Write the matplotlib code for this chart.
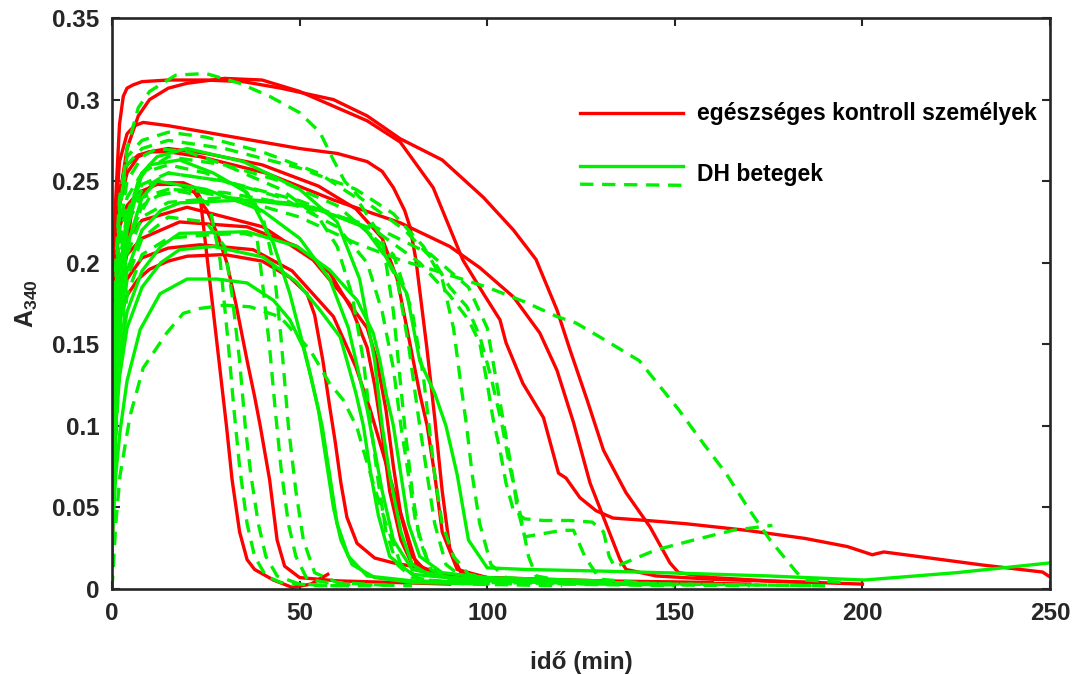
import matplotlib
matplotlib.use("Agg")
import matplotlib.pyplot as plt
from matplotlib.lines import Line2D

plt.rcParams['font.family'] = ['Liberation Sans', 'DejaVu Sans']
plt.rcParams['font.weight'] = 'bold'
plt.rcParams['mathtext.fontset'] = 'custom'
plt.rcParams['mathtext.rm'] = 'Liberation Sans:bold'
plt.rcParams['mathtext.bf'] = 'Liberation Sans:bold'
plt.rcParams['mathtext.it'] = 'Liberation Sans:bold'

# ---------------- data: healthy controls (red, solid) ----------------
red_x = [
    [0,0.7,1.3,2.1,4,5.6,8.2,11,15,19,22,23.5,25,27,29,30.5,32,34,36,38,43,48,53,57.5],
    [0,0.5,1,2,4,7,12,18,22,25.3,28,30.6,33,36,38,39.5,42,44,46,50,60,75,90],
    [0,0.5,1,2,4,7,10,15,20,30,40,47.4,52,54,56.2,58,59.5,61,62.6,65.3,70,75,81,90,110],
    [0,0.5,1,2,4,8,15,23.5,37.6,48,59,65,68.8,72,75,78.6,81,85,95,110,130],
    [0,0.5,1,2,4,8,18,36,49.3,58,64,68,70,72,74,77,80,90,105,130],
    [0,0.5,1,2,4,8,20,40.2,53.6,62.6,68,70.6,73,75,77,80,84,95,120,150],
    [0,0.5,1,2,4,7,10,15,25,40,55,65,72,76,79,82,84,86,88,92,100,130,160],
    [0,0.5,1,2,4,6,8.3,15,25,35,50,60,68,72,75,78,79.4,81,83.9,86,88,90,93,100,120,170],
    [0,0.5,1,2,3,4,5.6,8,15,25,35,45,59,68,76.8,88,99,107,113,118.6,122,126.6,131,137,143.4,148.7,151,160,175,200],
    [0,0.5,1,2,4,7,10,15,23.5,41,59,76.8,90,98,107,114,118.6,123,127.4,132,135.4,137,145,160,185],
    [0,0.5,1,2,4,7,10,15,20,30,40,50,60,68,76.8,85.6,93.5,99,103.4,105,109.5,115,119,121,124.7,129,133.5,142.6,153,169,184.7,196,202.6,205.7,216,232,248,250],
]
red_y = [
    [0.02,0.08,0.128,0.169,0.21,0.238,0.242,0.248,0.249,0.249,0.246,0.24,0.21,0.17,0.13,0.1,0.067,0.035,0.018,0.012,0.0055,0.001,0.003,0.009],
    [0.16,0.19,0.205,0.222,0.235,0.243,0.248,0.248,0.243,0.232,0.218,0.2,0.175,0.14,0.118,0.1,0.067,0.03,0.014,0.007,0.005,0.004,0.003],
    [0.12,0.14,0.152,0.165,0.18,0.19,0.196,0.201,0.204,0.205,0.201,0.191,0.181,0.168,0.14,0.112,0.09,0.065,0.044,0.028,0.019,0.016,0.0135,0.008,0.005],
    [0.13,0.15,0.16,0.175,0.19,0.203,0.209,0.211,0.208,0.195,0.167,0.136,0.11,0.085,0.061,0.034,0.016,0.01,0.007,0.005,0.004],
    [0.15,0.165,0.175,0.19,0.205,0.215,0.225,0.222,0.21,0.194,0.171,0.148,0.125,0.095,0.06,0.03,0.015,0.008,0.006,0.004],
    [0.16,0.175,0.185,0.2,0.215,0.226,0.234,0.222,0.2017,0.177,0.16,0.14,0.11,0.075,0.045,0.02,0.01,0.007,0.005,0.004],
    [0.17,0.195,0.21,0.235,0.255,0.265,0.268,0.27,0.267,0.26,0.247,0.233,0.215,0.19,0.155,0.12,0.1,0.07,0.035,0.012,0.007,0.005,0.004],
    [0.16,0.2,0.23,0.262,0.279,0.284,0.286,0.284,0.28,0.276,0.27,0.267,0.262,0.256,0.246,0.232,0.222,0.2017,0.148,0.105,0.06,0.025,0.01,0.007,0.005,0.003],
    [0.15,0.2,0.24,0.285,0.302,0.307,0.309,0.311,0.312,0.312,0.311,0.307,0.30,0.29,0.276,0.263,0.240,0.22,0.202,0.171,0.147,0.116,0.085,0.059,0.038,0.016,0.01,0.007,0.005,0.003],
    [0.17,0.2,0.22,0.245,0.26,0.266,0.268,0.268,0.265,0.255,0.2385,0.2245,0.21,0.197,0.179,0.157,0.134,0.102,0.065,0.038,0.018,0.012,0.008,0.006,0.004],
    [0.13,0.17,0.2,0.24,0.27,0.29,0.30,0.307,0.31,0.313,0.312,0.305,0.295,0.287,0.274,0.246,0.2017,0.181,0.165,0.151,0.126,0.105,0.071,0.068,0.056,0.048,0.0435,0.042,0.040,0.036,0.031,0.026,0.021,0.0227,0.0196,0.0147,0.0104,0.0074],
]

# ---------------- data: DH patients, solid green ----------------
gs_x = [
    [0,1,2.1,4,7.5,12.8,20,28,36,43,47.4,51,53,55,57,59,61,64,70,80,100],
    [0,1,2,4,8,13,18,27,40.2,49.3,55.4,60.8,62.6,65,67,69,71,74,80,95,120],
    [0,1,2,4,8,13,18,36,49.3,58,65.3,69.6,71.4,73,75,77,79,82,88,100,130],
    [0,1,2,4,8,13,18,36,53.6,67,73,78.6,82,86,89,92,95,100,110,130,150,175,200.5,225,250],
    [0,1,2,4,7,10,18,27,36,43,47.4,52,54,56,58,60,63,68,80,100],
    [0,1,2,4,8,12,25,40,50,58,63,66,68,70,72,75,80,90,110],
    [0,1,2,4,8,12,20,35,50,60,66,70,72,74,77,80,85,95,120],
]
gs_y = [
    [0.03,0.07,0.096,0.1275,0.159,0.181,0.19,0.19,0.1876,0.177,0.165,0.148,0.13,0.11,0.08,0.05,0.03,0.015,0.007,0.004,0.003],
    [0.05,0.1,0.13,0.16,0.185,0.2,0.208,0.21,0.2035,0.188,0.171,0.1545,0.14,0.12,0.1,0.07,0.045,0.02,0.009,0.006,0.004],
    [0.06,0.11,0.14,0.17,0.195,0.21,0.218,0.219,0.21,0.1956,0.177,0.157,0.14,0.12,0.1,0.07,0.04,0.02,0.01,0.007,0.005],
    [0.07,0.13,0.16,0.195,0.22,0.232,0.2367,0.2385,0.234,0.222,0.2035,0.181,0.14,0.12,0.1,0.07,0.03,0.013,0.012,0.011,0.0098,0.008,0.0055,0.01,0.016],
    [0.08,0.15,0.19,0.225,0.25,0.26,0.263,0.255,0.243,0.212,0.181,0.14,0.12,0.1,0.07,0.04,0.02,0.008,0.005,0.004],
    [0.06,0.13,0.17,0.21,0.24,0.25,0.245,0.232,0.215,0.19,0.16,0.13,0.11,0.085,0.06,0.03,0.012,0.007,0.005],
    [0.05,0.12,0.17,0.22,0.255,0.265,0.27,0.262,0.245,0.225,0.19,0.14,0.1,0.07,0.035,0.015,0.008,0.006,0.004],
]

# ---------------- data: DH patients, dashed green ----------------
gd_x = [
    [0,0.5,1,2,4,8,15,22,26,28.8,31,32.5,34,36,38,41,45,55,70],
    [0,0.5,1,2,4,8,15,25,30,32,34,35.5,37,39,41,44,50,60],
    [0,0.5,1,2,4,8,15,25,35,38.6,40,42,43.5,45,47,49,52,60,80],
    [0,0.5,1,2,4,8,15,25,35,40,43,45,47,49,51,54,60,75],
    [0,1,2.1,4.8,8.3,14.6,19,23.5,30,36.8,44.8,52.8,58,61.6,65.3,67,69.6,73,77,82,95,120],
    [0,0.5,1,2,4,8,12,20,30,45,55,60,64,67,69,71,73,76,80,90,110],
    [0,0.5,1,2,4,8,15,30,45,60,68,72,75,77,79,81,84,88,95,120,150],
    [0,0.5,1,2,4,8,15,25,40,55,65,72,75,78,80,82,85,90,100,130],
    [0,0.5,1,2,4,8,15,30,45,60,70,76,79,82,84,86,89,93,100,130,170],
    [0,0.5,1,2,4,8,15,30,50,65,75,80,83,84.5,86,88,91,95,105,140],
    [0,0.5,1,2,4,8,15,30,50,65,75,83,88,91,93,94.5,96,98,101,105,115,150,190],
    [0,0.5,1,2,4,8,15,30,50,70,82,90,95,98,100,101.5,103.4,105,107,110,115,122,128,131,132.5,134,145,155,165.5,176],
    [0,0.5,1,2,4,7,10,17,25,34,42,50,55.4,59,62,66,72,78,85.6,90,94.6,98,101,104,106,108.7,111,113,120,150,190],
    [0,0.5,1,2,5,10,20,35,50,65,76.8,85.6,100,110,118.6,123.7,130,140.5,144.7,151,157.5,163.6,170,175.4,182.6,184.7,195],
    [0,0.5,1,2,4,8,15,30,50,70,85,95,100,103,106,108,110,115,120,123,126,130,140],
]
gd_y = [
    [0.05,0.1,0.14,0.19,0.225,0.24,0.245,0.242,0.235,0.2017,0.15,0.11,0.075,0.04,0.02,0.008,0.004,0.002,0.002],
    [0.02,0.06,0.1,0.15,0.19,0.215,0.228,0.225,0.21,0.18,0.14,0.1,0.07,0.04,0.02,0.008,0.003,0.002],
    [0.0,0.05,0.09,0.14,0.18,0.205,0.215,0.217,0.218,0.216,0.19,0.148,0.11,0.075,0.04,0.02,0.006,0.003,0.002],
    [0.05,0.12,0.16,0.21,0.24,0.255,0.26,0.255,0.245,0.23,0.2,0.155,0.1,0.06,0.03,0.01,0.004,0.002],
    [0.0,0.04,0.069,0.106,0.1355,0.157,0.169,0.172,0.174,0.173,0.1668,0.1465,0.126,0.116,0.099,0.085,0.065,0.04,0.015,0.006,0.003,0.002],
    [0.08,0.14,0.18,0.22,0.25,0.265,0.27,0.268,0.26,0.245,0.228,0.21,0.18,0.14,0.1,0.065,0.035,0.015,0.007,0.004,0.003],
    [0.06,0.12,0.16,0.2,0.23,0.248,0.255,0.25,0.24,0.222,0.2,0.17,0.135,0.1,0.07,0.04,0.018,0.008,0.005,0.003,0.002],
    [0.1,0.16,0.2,0.24,0.265,0.275,0.28,0.277,0.268,0.255,0.24,0.215,0.17,0.1,0.06,0.03,0.012,0.006,0.004,0.003],
    [0.04,0.1,0.14,0.19,0.23,0.255,0.265,0.26,0.25,0.235,0.215,0.19,0.15,0.1,0.07,0.04,0.015,0.008,0.005,0.003,0.002],
    [0.03,0.08,0.12,0.17,0.205,0.228,0.237,0.24,0.236,0.225,0.205,0.17,0.13,0.1,0.07,0.04,0.02,0.009,0.005,0.003],
    [0.07,0.15,0.19,0.235,0.26,0.27,0.275,0.27,0.258,0.245,0.23,0.21,0.19,0.16,0.125,0.1,0.07,0.04,0.015,0.007,0.005,0.003,0.002],
    [0.05,0.1,0.14,0.19,0.225,0.245,0.255,0.25,0.238,0.22,0.2,0.18,0.165,0.151,0.126,0.105,0.085,0.065,0.048,0.043,0.042,0.042,0.041,0.035,0.02,0.0135,0.024,0.03,0.036,0.039],
    [0.05,0.12,0.17,0.23,0.27,0.295,0.305,0.315,0.316,0.31,0.302,0.292,0.28,0.263,0.25,0.24,0.23,0.22,0.2017,0.185,0.173,0.155,0.13,0.1,0.075,0.047,0.02,0.008,0.005,0.003,0.002],
    [0.06,0.1,0.13,0.18,0.22,0.24,0.245,0.238,0.228,0.212,0.2017,0.1956,0.185,0.176,0.167,0.163,0.1545,0.14,0.128,0.11,0.0895,0.071,0.048,0.03,0.0098,0.0055,0.004],
    [0.03,0.08,0.12,0.17,0.21,0.235,0.245,0.243,0.235,0.222,0.205,0.185,0.16,0.12,0.08,0.05,0.032,0.034,0.036,0.036,0.02,0.006,0.004],
]

x_ticks = [0, 50, 100, 150, 200, 250]
y_ticks = [0, 0.05, 0.1, 0.15, 0.2, 0.25, 0.3, 0.35]
y_tick_labels = ['0', '0.05', '0.1', '0.15', '0.2', '0.25', '0.3', '0.35']
legend_labels = ['egészséges kontroll személyek', 'DH betegek']
xlabel = 'idő (min)'
ylabel = r'$\mathbf{A_{340}}$'

RED = '#ff0000'
GREEN = '#00f000'
LW = 2.4
DASH = (4.0, 2.6)

fig = plt.figure(figsize=(10.74, 6.75), dpi=100)
ax = fig.add_axes([0.1043, 0.1274, 0.8734, 0.8459])

for xs, ys in zip(red_x, red_y):
    ax.plot(xs, ys, color=RED, lw=LW, solid_joinstyle='round')
for xs, ys in zip(gs_x, gs_y):
    ax.plot(xs, ys, color=GREEN, lw=LW, solid_joinstyle='round')
for xs, ys in zip(gd_x, gd_y):
    ax.plot(xs, ys, color=GREEN, lw=LW, dashes=DASH)

ax.set_xlim(0, 250)
ax.set_ylim(0, 0.35)
ax.set_xticks(x_ticks)
ax.set_xticklabels([str(t) for t in x_ticks])
ax.set_yticks(y_ticks)
ax.set_yticklabels(y_tick_labels)

spine_col = '#262626'
for s in ax.spines.values():
    s.set_linewidth(1.9)
    s.set_color(spine_col)
ax.tick_params(direction='in', length=6, width=1.5, colors=spine_col,
               top=True, right=True, labelsize=17.5, pad=9)
for lab in ax.get_xticklabels() + ax.get_yticklabels():
    lab.set_fontweight('bold')
    lab.set_color(spine_col)

ax.set_xlabel(xlabel, fontsize=17.5, fontweight='bold', labelpad=19, color=spine_col)
ax.set_ylabel(ylabel, fontsize=18, labelpad=9, color=spine_col)

# manual legend (axes-fraction positions)
ax.add_line(Line2D([0.499, 0.609], [0.8336, 0.8336], transform=ax.transAxes, color=RED, lw=LW))
ax.text(0.6237, 0.8336, legend_labels[0], transform=ax.transAxes, va='center', ha='left',
        fontsize=16.5, fontweight='bold', color='black')
ax.add_line(Line2D([0.499, 0.609], [0.7408, 0.7408], transform=ax.transAxes, color=GREEN, lw=LW))
ax.add_line(Line2D([0.499, 0.609], [0.709, 0.707], transform=ax.transAxes, color=GREEN, lw=LW, dashes=DASH))
ax.text(0.6237, 0.7268, legend_labels[1], transform=ax.transAxes, va='center', ha='left',
        fontsize=16.5, fontweight='bold', color='black')

fig.savefig('out.png', dpi=100)
